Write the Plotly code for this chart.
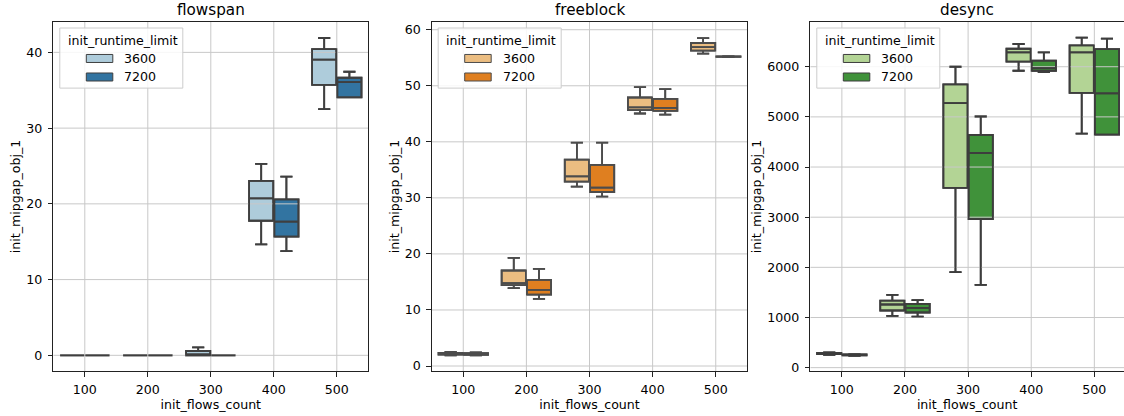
import plotly.graph_objects as go

# ---------------------------------------------------------------- data
FLOWS = ["100", "200", "300", "400", "500"]
LIMITS = ["3600", "7200"]
PANELS = ["flowspan", "freeblock", "desync"]

# five-number summaries per flows count:
# (lower whisker, q1, median, q3, upper whisker)
flowspan_3600 = [(0, 0, 0, 0, 0), (0, 0, 0, 0, 0), (0, 0, 0.05, 0.57, 1.05),
                 (14.64, 17.77, 20.73, 23.02, 25.27), (32.5, 35.72, 39.03, 40.44, 41.9)]
flowspan_7200 = [(0, 0, 0, 0, 0), (0, 0, 0, 0, 0), (0, 0, 0, 0, 0),
                 (13.76, 15.66, 17.64, 20.6, 23.59), (34.05, 34.05, 36.07, 36.65, 37.44)]

freeblock_3600 = [(1.9, 2.05, 2.2, 2.35, 2.5), (13.89, 14.42, 14.78, 17.04, 19.31),
                  (32.0, 32.9, 33.85, 36.83, 39.87), (45.05, 45.65, 46.13, 47.91, 49.76),
                  (55.72, 56.26, 56.91, 57.63, 58.52)]
freeblock_7200 = [(1.9, 2.0, 2.15, 2.3, 2.45), (11.98, 12.75, 13.59, 15.38, 17.34),
                  (30.21, 31.05, 31.82, 35.88, 39.87), (44.87, 45.53, 46.07, 47.68, 49.4),
                  (55.1, 55.15, 55.2, 55.25, 55.3)]

desync_3600 = [(255, 270, 285, 295, 305), (1032, 1139, 1259, 1338, 1452),
               (1904, 3583, 5274, 5650, 6000), (5920, 6100, 6286, 6359, 6453),
               (4668, 5480, 6286, 6426, 6580)]
desync_7200 = [(235, 245, 255, 262, 270), (1019, 1099, 1192, 1272, 1345),
               (1651, 2963, 4280, 4641, 5008), (5893, 5920, 5973, 6120, 6286),
               (4648, 4648, 5470, 6353, 6560)]

SERIES = {
    "flowspan": (flowspan_3600, flowspan_7200),
    "freeblock": (freeblock_3600, freeblock_7200),
    "desync": (desync_3600, desync_7200),
}

Y_TICKS = {
    "flowspan": [0, 10, 20, 30, 40],
    "freeblock": [0, 10, 20, 30, 40, 50, 60],
    "desync": [0, 1000, 2000, 3000, 4000, 5000, 6000],
}

# ---------------------------------------------------------------- styling
W, H = 1124, 416
TOP, BOTTOM = 22.3, 370.7
PLOT_H = BOTTOM - TOP
PANEL_X = [(53.3, 368.3), (431.7, 747.3), (810.3, 1124.0)]
X_RANGES = [[-0.5, 4.5], [-0.5, 4.5], [-0.5, 4.47]]
Y_RANGES = {"flowspan": [-2.07, 44.01], "freeblock": [-0.89, 61.38], "desync": [-67, 6892]}

FILLS = {
    "flowspan": ("#aeccdb", "#3274a1"),
    "freeblock": ("#ebbd81", "#df7f20"),
    "desync": ("#b3d495", "#40923a"),
}
EDGES = {"flowspan": "#3f3f3f", "freeblock": "#4c4c4c", "desync": "#3d3d3d"}

FONT = "DejaVu Sans"
TICK_SIZE = 12.6
TITLE_SIZE = 15.2
GRID = "#c8c8c8"
SPINE = "#222222"

POSITIONS = list(range(len(FLOWS)))

fig = go.Figure()
shapes, annotations = [], []


def box_trace(stats, limit, fill, edge, xa, ya):
    return go.Box(
        x=POSITIONS,
        lowerfence=[s[0] for s in stats],
        q1=[s[1] for s in stats],
        median=[s[2] for s in stats],
        q3=[s[3] for s in stats],
        upperfence=[s[4] for s in stats],
        name=limit,
        offsetgroup=limit,
        fillcolor=fill,
        line=dict(color=edge, width=1.8),
        whiskerwidth=0.5,
        boxpoints=False,
        showlegend=False,
        hoverinfo="skip",
        xaxis=xa, yaxis=ya,
    )


for i, panel in enumerate(PANELS):
    n = "" if i == 0 else str(i + 1)
    on = str(i + 4)  # overlay axes that carry the whisker/median lines above the grid
    xa, ya = "x" + n, "y" + n
    xo, yo = "x" + on, "y" + on
    x0px, x1px = PANEL_X[i]
    pw = x1px - x0px
    edge = EDGES[panel]
    xr, yr = X_RANGES[i], Y_RANGES[panel]

    # filled boxes
    for limit, stats, fill in zip(LIMITS, SERIES[panel], FILLS[panel]):
        fig.add_trace(box_trace(stats, limit, fill, edge, xa, ya))

    # grid lines, drawn above the box fills
    gx, gy = [], []
    for t in Y_TICKS[panel]:
        gx += [xr[0], xr[1], None]
        gy += [t, t, None]
    for p in POSITIONS:
        gx += [p, p, None]
        gy += [yr[0], yr[1], None]
    fig.add_trace(go.Scatter(x=gx, y=gy, mode="lines", line=dict(color=GRID, width=1),
                             hoverinfo="skip", showlegend=False, xaxis=xa, yaxis=ya))

    # box lines again on top of the grid
    for limit, stats in zip(LIMITS, SERIES[panel]):
        fig.add_trace(box_trace(stats, limit, "rgba(0,0,0,0)", edge, xo, yo))

    axis_common = dict(
        showgrid=False, zeroline=False, showline=True, mirror=True,
        linecolor=SPINE, linewidth=1, ticks="outside", ticklen=4.5,
        tickwidth=1, tickcolor=SPINE,
        tickfont=dict(family=FONT, size=TICK_SIZE, color="black"),
        title_font=dict(family=FONT, size=TICK_SIZE, color="black"),
    )
    xdom = [x0px / W, x1px / W]
    fig.update_layout({
        ("xaxis" + n): dict(
            axis_common, domain=xdom, anchor=ya, range=xr,
            tickvals=POSITIONS, ticktext=FLOWS, ticklabelstandoff=2,
            title=dict(text="init_flows_count", standoff=2),
        ),
        ("yaxis" + n): dict(
            axis_common, domain=[0, 1], anchor=xa, range=yr,
            tickvals=Y_TICKS[panel], ticklabelstandoff=3,
            title=dict(text="init_mipgap_obj_1", standoff=2),
        ),
        ("xaxis" + on): dict(domain=xdom, anchor=yo, overlaying=xa, range=xr,
                             visible=False, showgrid=False, zeroline=False),
        ("yaxis" + on): dict(domain=[0, 1], anchor=xo, overlaying=ya, range=yr,
                             visible=False, showgrid=False, zeroline=False),
    })

    # panel title
    annotations.append(dict(text=panel, xref="paper", yref="paper",
                            x=(x0px + x1px) / 2 / W, y=1 + (TOP - 10) / PLOT_H,
                            xanchor="center", yanchor="middle", showarrow=False,
                            font=dict(family=FONT, size=TITLE_SIZE, color="black")))

    # legend box (pixel offsets from the panel's top-left corner)
    def fx(px):
        return px / pw

    def fy(px):
        return 1 - px / PLOT_H

    shapes.append(dict(type="rect", layer="above", xref=xa + " domain", yref=ya + " domain",
                       x0=fx(6.5), x1=fx(129.5), y0=fy(6), y1=fy(66),
                       fillcolor="rgba(255,255,255,0.85)", line=dict(color="#cccccc", width=1)))
    annotations.append(dict(text="init_runtime_limit", xref=xa + " domain", yref=ya + " domain",
                            x=fx(12.5), y=fy(18.4), xanchor="left", yanchor="middle",
                            showarrow=False,
                            font=dict(family=FONT, size=TICK_SIZE, color="black")))
    for k, (limit, fill) in enumerate(zip(LIMITS, FILLS[panel])):
        cy = 36.4 + 18.5 * k
        shapes.append(dict(type="rect", layer="above", xref=xa + " domain", yref=ya + " domain",
                           x0=fx(33), x1=fx(59.5), y0=fy(cy - 4), y1=fy(cy + 4),
                           fillcolor=fill, line=dict(color=edge, width=1)))
        annotations.append(dict(text=limit, xref=xa + " domain", yref=ya + " domain",
                                x=fx(69), y=fy(cy), xanchor="left", yanchor="middle",
                                showarrow=False,
                                font=dict(family=FONT, size=TICK_SIZE, color="black")))

fig.update_layout(
    width=W, height=H,
    margin=dict(l=0, r=0, t=TOP, b=H - BOTTOM, autoexpand=False),
    paper_bgcolor="white", plot_bgcolor="white",
    boxmode="group", boxgap=0.2, boxgroupgap=0.04,
    font=dict(family=FONT, size=TICK_SIZE, color="black"),
    shapes=shapes, annotations=annotations,
    showlegend=False,
)

fig.write_html("out.html")
